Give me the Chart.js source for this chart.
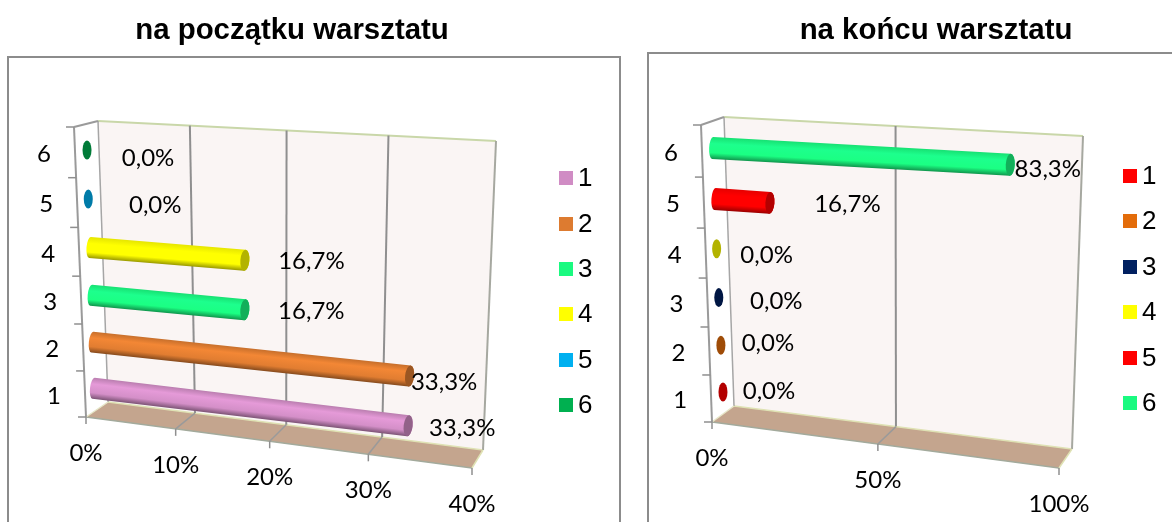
<!DOCTYPE html>
<html>
<head>
<meta charset="utf-8">
<title>warsztat</title>
<script src="https://cdn.jsdelivr.net/npm/chart.js@4"></script>
<style>
html, body { margin: 0; padding: 0; background: #fff; overflow: hidden; }
.box { position: absolute; top: 0; height: 522px; }
#box1 { left: 0; width: 640px; }
#box2 { left: 640px; width: 532px; }
</style>
</head>
<body>
<div class="box" id="box1"><canvas id="chart1"></canvas></div>
<div class="box" id="box2"><canvas id="chart2"></canvas></div>
<script>
// data
var categories = ["1", "2", "3", "4", "5", "6"];
var startValues = [33.3, 33.3, 16.7, 16.7, 0, 0];
var endValues = [0, 0, 0, 0, 16.7, 83.3];
var startColors = ["#d08cc4", "#dd7b30", "#1afa80", "#ffff00", "#00b0f0", "#00b050"];
var endColors = ["#ff0000", "#e36c0a", "#002060", "#ffff00", "#ff0000", "#1afa80"];
var startTitle = "na początku warsztatu";
var endTitle = "na końcu warsztatu";

var labelFont = "24px Lato";
var legendFont = "26px 'Liberation Sans'";

// pictured 3d box, page coordinates: bottom-left, bottom-right, top-right, top-left
var layout1 = {
  originX: 0,
  frame: [8, 57, 620, 540],
  back: [[108, 402], [483, 450], [496, 141], [98, 121]],
  front: [[86, 417], [472, 468], [484, 150], [74, 127]],
  middle: [[93.6, 411], [477, 459], [490, 145], [86.4, 125]],
  barSize: 21,
  labelOffsets: [[54, 3], [34.5, 6], [66.5, 2], [66.5, 1], [67, 6], [61, 8]],
  legendX: 559,
  legendY: [178, 224, 269, 314, 360, 405]
};
var layout2 = {
  originX: 640,
  frame: [648, 53, 1200, 540],
  back: [[734, 406], [1072, 449], [1083, 136], [724, 117]],
  front: [[712, 422], [1059, 468], [1071, 145], [701, 125]],
  middle: [[724, 415], [1065.5, 459], [1077, 140], [711, 122]],
  barSize: 22,
  labelOffsets: [[46, -1], [47, -2], [57.5, 4], [50, 6], [77.5, 1], [37.5, 5]],
  legendX: 1123,
  legendY: [176, 221, 267, 312, 358, 403]
};

function homography(q) {
  var dx1 = q[1][0] - q[2][0], dx2 = q[3][0] - q[2][0], sx = q[0][0] - q[1][0] + q[2][0] - q[3][0];
  var dy1 = q[1][1] - q[2][1], dy2 = q[3][1] - q[2][1], sy = q[0][1] - q[1][1] + q[2][1] - q[3][1];
  var den = dx1 * dy2 - dx2 * dy1;
  var g = (sx * dy2 - dx2 * sy) / den, h = (dx1 * sy - sx * dy1) / den;
  var a = q[1][0] - q[0][0] + g * q[1][0], b = q[3][0] - q[0][0] + h * q[3][0];
  var d = q[1][1] - q[0][1] + g * q[1][1], e = q[3][1] - q[0][1] + h * q[3][1];
  return function(u, v) {
    var w = g * u + h * v + 1;
    return [(a * u + b * v + q[0][0]) / w, (d * u + e * v + q[0][1]) / w];
  };
}

function shade(hex, f) {
  var n = parseInt(hex.slice(1), 16);
  var r = Math.min(255, Math.round((n >> 16 & 255) * f));
  var g = Math.min(255, Math.round((n >> 8 & 255) * f));
  var b = Math.min(255, Math.round((n & 255) * f));
  return "rgb(" + r + "," + g + "," + b + ")";
}

function line(ctx, p, q, color, width) {
  ctx.strokeStyle = color;
  ctx.lineWidth = width;
  ctx.beginPath();
  ctx.moveTo(p[0], p[1]);
  ctx.lineTo(q[0], q[1]);
  ctx.stroke();
}

function poly(ctx, pts, color) {
  ctx.fillStyle = color;
  ctx.beginPath();
  pts.forEach(function(p, i) {
    if (i == 0) ctx.moveTo(p[0], p[1]);
    else ctx.lineTo(p[0], p[1]);
  });
  ctx.closePath();
  ctx.fill();
}

function drawBar(ctx, p0, p1, size, color) {
  var len = Math.hypot(p1[0] - p0[0], p1[1] - p0[1]);
  var half = size / 2, rx = 4.5;
  ctx.save();
  ctx.translate(p0[0], p0[1]);
  ctx.rotate(Math.atan2(p1[1] - p0[1], p1[0] - p0[0]));
  if (len > 0) {
    var grad = ctx.createLinearGradient(0, -half, 0, half);
    grad.addColorStop(0, shade(color, 0.9));
    grad.addColorStop(0.3, shade(color, 1.1));
    grad.addColorStop(0.72, shade(color, 1.02));
    grad.addColorStop(1, shade(color, 0.6));
    ctx.fillStyle = grad;
    ctx.beginPath();
    ctx.moveTo(0.5, -half);
    ctx.lineTo(len, -half);
    ctx.ellipse(len, 0, rx, half, 0, -Math.PI / 2, Math.PI / 2);
    ctx.lineTo(0.5, half);
    ctx.ellipse(0.5, 0, 3.5, half, 0, Math.PI / 2, Math.PI * 1.5);
    ctx.fill();
  }
  ctx.fillStyle = shade(color, 0.7);
  ctx.beginPath();
  ctx.ellipse(len, 0, rx, len > 0 ? half : 9.5, 0, 0, Math.PI * 2);
  ctx.fill();
  ctx.restore();
}

var boxPlugin = {
  id: "box3d",
  beforeDatasetsDraw: function(chart) {
    var o = chart.options.plugins.box3d, L = o.layout;
    var ctx = chart.ctx, area = chart.chartArea;
    var xs = chart.scales.x, ys = chart.scales.y;
    var back = homography(L.back), front = homography(L.front), middle = homography(L.middle);
    var uOf = function(px) { return (px - area.left) / area.width; };
    var vOf = function(py) { return (area.bottom - py) / area.height; };

    ctx.save();
    ctx.translate(-L.originX, 0);

    // outer frame
    ctx.strokeStyle = "#8c8c8c";
    ctx.lineWidth = 2;
    ctx.strokeRect(L.frame[0], L.frame[1], L.frame[2] - L.frame[0], L.frame[3] - L.frame[1]);

    // walls and floor
    poly(ctx, L.back, "#faf5f4");
    poly(ctx, [L.front[0], L.front[1], L.back[1], L.back[0]], "#c4a58e");
    line(ctx, L.back[0], L.back[1], "#dfe2b4", 1.5);
    line(ctx, L.front[0], L.front[1], "#a3aa9c", 1.5);
    line(ctx, L.back[2], L.back[3], "#c9d7a9", 2);
    line(ctx, L.back[3], L.back[0], "#a6a6a6", 1.5);
    line(ctx, L.front[3], L.back[3], "#9a9a9a", 2);
    line(ctx, L.front[0], L.back[0], "#e6e6c8", 1.5);

    // value grid, floor lines, ticks
    ctx.font = labelFont;
    ctx.fillStyle = "#000";
    ctx.textAlign = "center";
    ctx.textBaseline = "middle";
    xs.ticks.forEach(function(t) {
      var u = uOf(xs.getPixelForValue(t.value));
      var f = front(u, 0);
      if (u > 0) {
        line(ctx, back(u, 0), back(u, 1), u >= 1 ? "#a6a8a0" : "#8f8f8f", 2);
        line(ctx, f, back(u, 0), u >= 1 ? "#dfe2b4" : "#9a9a9a", 1.5);
      }
      line(ctx, f, [f[0], f[1] + 7], "#8f8f8f", 1.5);
      ctx.fillText(t.label, f[0], f[1] + 36);
    });

    // category axis
    line(ctx, L.front[3], L.front[0], "#9a9a9a", 2);
    for (var i = 0; i <= categories.length; i++) {
      var e = front(0, i / categories.length);
      line(ctx, [e[0] - 8, e[1]], e, "#8f8f8f", 1.5);
    }
    ys.ticks.forEach(function(t, i) {
      var p = front(0, vOf(ys.getPixelForTick(i)));
      ctx.fillText(t.label, p[0] - 31, p[1] + 2);
    });

    // bars come from the bar elements the library laid out
    var meta = chart.getDatasetMeta(0);
    meta.data.forEach(function(el, i) {
      var p0 = middle(uOf(el.base), vOf(el.y));
      var p1 = middle(uOf(el.x), vOf(el.y));
      drawBar(ctx, p0, p1, L.barSize, chart.data.datasets[0].backgroundColor[i]);
    });

    // value labels
    meta.data.forEach(function(el, i) {
      var p1 = middle(uOf(el.x), vOf(el.y));
      var text = chart.data.datasets[0].data[i].toFixed(1).replace(".", ",") + "%";
      ctx.fillStyle = "#000";
      ctx.fillText(text, p1[0] + L.labelOffsets[i][0], p1[1] + L.labelOffsets[i][1]);
    });

    // legend
    chart.data.labels.forEach(function(label, i) {
      ctx.fillStyle = chart.data.datasets[0].backgroundColor[i];
      ctx.fillRect(L.legendX, L.legendY[i] - 7, 14, 14);
      ctx.fillStyle = "#000";
      ctx.font = legendFont;
      ctx.textAlign = "left";
      ctx.fillText(label, L.legendX + 19, L.legendY[i] + 1);
    });

    ctx.restore();
    return false;
  }
};

function makeChart(id, title, values, colors, maxVal, step, layout, padding) {
  return new Chart(document.getElementById(id), {
    type: "bar",
    data: {
      labels: categories,
      datasets: [{ data: values, backgroundColor: colors }]
    },
    options: {
      indexAxis: "y",
      responsive: true,
      maintainAspectRatio: false,
      animation: false,
      layout: { padding: padding },
      scales: {
        x: {
          display: false,
          min: 0,
          max: maxVal,
          ticks: { stepSize: step, callback: function(v) { return v + "%"; } }
        },
        y: { display: false, reverse: true }
      },
      plugins: {
        legend: { display: false },
        tooltip: { enabled: false },
        title: {
          display: true,
          text: title,
          color: "#000",
          font: { family: "'Liberation Sans'", size: 29.4, weight: "bold" },
          padding: { top: 13, bottom: 0 }
        },
        box3d: { layout: layout }
      }
    },
    plugins: [boxPlugin]
  });
}

makeChart("chart1", startTitle, startValues, startColors, 40, 10, layout1, { left: 0, right: 56, top: 0, bottom: 0 });
makeChart("chart2", endTitle, endValues, endColors, 100, 50, layout2, { left: 60, right: 0, top: 0, bottom: 0 });
</script>
</body>
</html>
